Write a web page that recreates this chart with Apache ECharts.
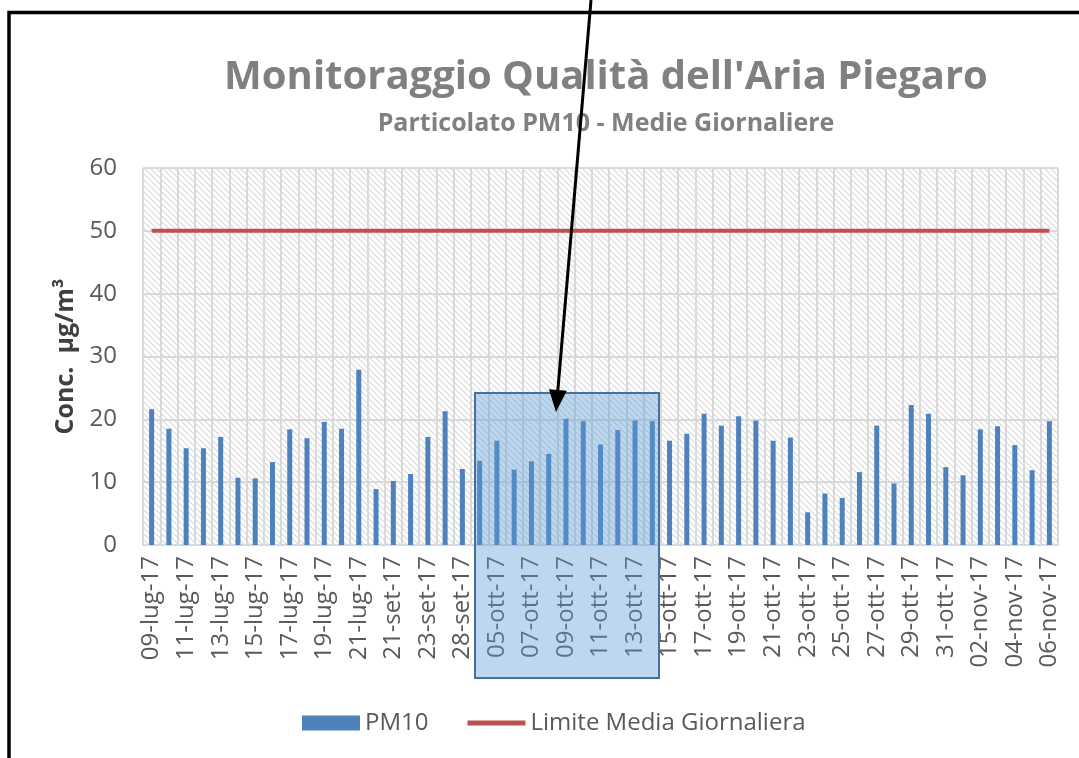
<!DOCTYPE html>
<html>
<head>
<meta charset="utf-8">
<script src="https://cdn.jsdelivr.net/npm/echarts@6/dist/echarts.min.js"></script>
<style>
  html, body { margin: 0; padding: 0; background: #ffffff; }
  #chart { width: 1079px; height: 758px; }
</style>
</head>
<body>
<div id="chart"></div>
<script>
const categories = [
  '09-lug-17','10-lug-17','11-lug-17','12-lug-17','13-lug-17','14-lug-17','15-lug-17','16-lug-17',
  '17-lug-17','18-lug-17','19-lug-17','20-lug-17','21-lug-17','22-lug-17','21-set-17','22-set-17',
  '23-set-17','24-set-17','28-set-17','04-ott-17','05-ott-17','06-ott-17','07-ott-17','08-ott-17',
  '09-ott-17','10-ott-17','11-ott-17','12-ott-17','13-ott-17','14-ott-17','15-ott-17','16-ott-17',
  '17-ott-17','18-ott-17','19-ott-17','20-ott-17','21-ott-17','22-ott-17','23-ott-17','24-ott-17',
  '25-ott-17','26-ott-17','27-ott-17','28-ott-17','29-ott-17','30-ott-17','31-ott-17','01-nov-17',
  '02-nov-17','03-nov-17','04-nov-17','05-nov-17','06-nov-17'
];

const pm10Values = [
  21.6, 18.5, 15.4, 15.4, 17.2, 10.7, 10.6, 13.2, 18.4, 17.0, 19.6, 18.5, 27.9, 8.9, 10.2, 11.3,
  17.2, 21.3, 12.1, 13.4, 16.6, 12.0, 13.3, 14.5, 20.1, 19.7, 16.0, 18.3, 19.8, 19.7, 16.6, 17.7,
  20.9, 19.0, 20.5, 19.8, 16.6, 17.1, 5.2, 8.2, 7.5, 11.6, 19.0, 9.8, 22.3, 20.9, 12.4, 11.1,
  18.4, 18.9, 15.9, 11.9, 19.7
];

const limitValues = [
  50, 50, 50, 50, 50, 50, 50, 50, 50, 50, 50, 50, 50, 50, 50, 50,
  50, 50, 50, 50, 50, 50, 50, 50, 50, 50, 50, 50, 50, 50, 50, 50,
  50, 50, 50, 50, 50, 50, 50, 50, 50, 50, 50, 50, 50, 50, 50, 50,
  50, 50, 50, 50, 50
];

const yTicks = { min: 0, max: 60, interval: 10 };

const titleText = "Monitoraggio Qualità dell'Aria Piegaro";
const subtitleText = 'Particolato PM10 - Medie Giornaliere';
const yAxisName = 'Conc.  µg/m³';
const seriesNames = ['PM10', 'Limite Media Giornaliera'];

function makeHatch() {
  const s = 6;
  const c = document.createElement('canvas');
  c.width = s; c.height = s;
  const ctx = c.getContext('2d');
  ctx.fillStyle = '#ffffff';
  ctx.fillRect(0, 0, s, s);
  ctx.strokeStyle = '#d9d9d9';
  ctx.lineWidth = 1.2;
  for (let k = -1; k <= 1; k++) {
    ctx.beginPath();
    ctx.moveTo(k * s, 0);
    ctx.lineTo(k * s + s, s);
    ctx.stroke();
  }
  return c;
}

const FONT = '"Open Sans", "Noto Sans", sans-serif';
const chart = echarts.init(document.getElementById('chart'), null, { renderer: 'canvas' });

// arrow geometry (annotation overlay)
const tip = [556, 412];
const tail = [591, 0];
const dx = tip[0] - tail[0], dy = tip[1] - tail[1];
const len = Math.sqrt(dx * dx + dy * dy);
const ux = dx / len, uy = dy / len;
const headLen = 22, headHalf = 9;
const baseC = [tip[0] - headLen * ux, tip[1] - headLen * uy];
const nx = -uy, ny = ux;

chart.setOption({
  animation: false,
  backgroundColor: '#ffffff',
  textStyle: { fontFamily: FONT },
  title: [
    {
      text: titleText,
      left: 601, top: 53, textAlign: 'center',
      textStyle: { fontFamily: FONT, fontSize: 40, fontWeight: 'bold', color: '#808080' }
    },
    {
      text: subtitleText,
      left: 601, top: 106, textAlign: 'center',
      textStyle: { fontFamily: FONT, fontSize: 25, fontWeight: 'bold', color: '#808080' }
    }
  ],
  legend: {
    left: 297, top: 706,
    itemWidth: 58, itemHeight: 15, itemGap: 39,
    textStyle: { fontFamily: FONT, fontSize: 24, color: '#595959' },
    data: [
      { name: seriesNames[0], icon: 'rect' },
      { name: seriesNames[1], icon: 'path://M0,0H60V5H0Z' }
    ]
  },
  grid: {
    left: 143, right: 21, top: 168, bottom: 213,
    outerBoundsMode: 'none',
    containLabel: false,
    show: true,
    borderWidth: 0,
    backgroundColor: { image: makeHatch(), repeat: 'repeat' }
  },
  xAxis: {
    type: 'category',
    data: categories,
    boundaryGap: true,
    axisLine: { show: true, lineStyle: { color: '#d9d9d9', width: 2 } },
    axisTick: { show: false },
    axisLabel: {
      interval: 1, rotate: 90, margin: 11,
      fontFamily: FONT, fontSize: 24, color: '#595959'
    },
    splitLine: { show: true, interval: 0, lineStyle: { color: '#d9d9d9', width: 2 } }
  },
  yAxis: {
    type: 'value',
    min: yTicks.min, max: yTicks.max, interval: yTicks.interval,
    name: yAxisName,
    nameLocation: 'middle',
    nameGap: 58,
    nameRotate: 90,
    nameTextStyle: { fontFamily: FONT, fontSize: 25, fontWeight: 'bold', color: '#404040' },
    axisLine: { show: false },
    axisTick: { show: false },
    axisLabel: { margin: 26, fontFamily: FONT, fontSize: 24, color: '#595959' },
    splitLine: { show: true, lineStyle: { color: '#d9d9d9', width: 2 } }
  },
  series: [
    {
      name: seriesNames[0],
      type: 'bar',
      data: pm10Values,
      barWidth: 5,
      itemStyle: { color: '#4f81bd' },
      z: 2
    },
    {
      name: seriesNames[1],
      type: 'line',
      data: limitValues,
      symbol: 'none',
      showSymbol: false,
      lineStyle: { color: '#c0504d', width: 4 },
      itemStyle: { color: '#c0504d' },
      z: 3
    }
  ],
  graphic: [
    {
      type: 'polyline', z: 100,
      shape: { points: [[9, 760], [9, 12.5], [1082, 12.5]] },
      style: { stroke: '#000000', lineWidth: 3.5, fill: null }
    },
    {
      type: 'rect', z: 100,
      shape: { x: 475, y: 393, width: 184, height: 285 },
      style: { fill: 'rgba(91,155,213,0.4)', stroke: '#41719c', lineWidth: 2 }
    },
    {
      type: 'line', z: 101,
      shape: { x1: tail[0], y1: tail[1], x2: baseC[0], y2: baseC[1] },
      style: { stroke: '#000000', lineWidth: 3 }
    },
    {
      type: 'polygon', z: 101,
      shape: { points: [tip, [baseC[0] + headHalf * nx, baseC[1] + headHalf * ny], [baseC[0] - headHalf * nx, baseC[1] - headHalf * ny]] },
      style: { fill: '#000000' }
    }
  ]
});
</script>
</body>
</html>
